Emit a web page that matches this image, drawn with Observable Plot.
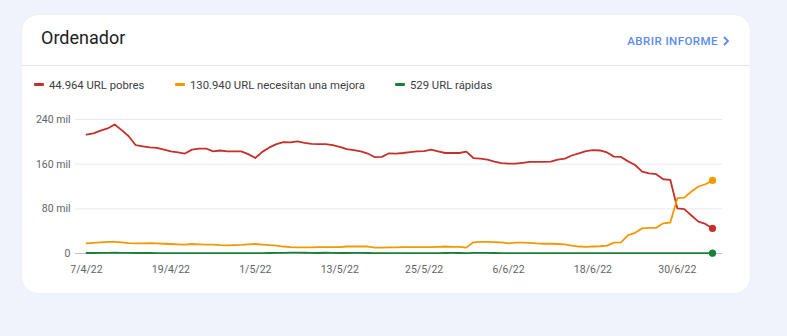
<!DOCTYPE html>
<html>
<head>
<meta charset="utf-8">
<script src="https://cdn.jsdelivr.net/npm/d3@7"></script>
<script src="https://cdn.jsdelivr.net/npm/@observablehq/plot@0.6"></script>
<style>
  html, body { margin: 0; padding: 0; }
  body { width: 787px; height: 336px; background: #f0f3fb; position: relative; overflow: hidden; font-family: Roboto, "Noto Sans", sans-serif; }
  .card { position: absolute; left: 22px; top: 15px; width: 728px; height: 278px; background: #fff; border-radius: 16px; box-shadow: 0 0 2px rgba(60,64,67,0.06); }
  .title { position: absolute; left: 19px; top: 12px; font-size: 18px; color: #202124; }
  .link { position: absolute; right: 20px; top: 19px; font-size: 11.5px; font-weight: 500; color: #5a8cec; letter-spacing: 0.45px; }
  .link svg { vertical-align: -1px; margin-left: 5px; }
  .divider { position: absolute; left: 0; right: 0; top: 50px; height: 1px; background: #e3e3e3; }
  .legend { position: absolute; top: 64px; font-size: 11.3px; color: #3c4043; white-space: nowrap; }
  .legend span.sw { display: inline-block; width: 10px; height: 3px; vertical-align: 3px; margin-right: 5px; border-radius: 1px; }
  #chart { position: absolute; left: 0; top: 0; }
</style>
</head>
<body>
<div class="card">
  <div class="title">Ordenador</div>
  <div class="link">ABRIR INFORME<svg width="7" height="10" viewBox="0 0 7 10"><path d="M1 1 L5 5 L1 9" fill="none" stroke="#5a8cec" stroke-width="1.8"/></svg></div>
  <div class="divider"></div>
  <div id="legend"></div>
</div>
<div id="chart"></div>
<script>
// ---- data ----
const startDate = "2022-04-07";
const seriesNames = ["44.964 URL pobres", "130.940 URL necesitan una mejora", "529 URL rápidas"];
const seriesColors = ["#c5302a", "#f29900", "#188038"];

// values in thousands ("mil")
const pobres = [
  213, 215, 220, 224, 231, 221, 210, 194, 192, 190,
  189, 186, 183, 181, 179, 186, 188, 188, 183, 184.5,
  183, 183, 183, 178, 171, 182, 190, 196, 199.5, 199,
  201, 198, 196.5, 196, 196, 194, 191, 187, 185, 183,
  179, 172.5, 173, 179.5, 179, 180, 181.5, 183, 183.5, 186,
  183, 180, 180, 180, 182.5, 171, 170, 168, 164.5, 162,
  161, 161, 162.5, 164, 164, 164, 164.5, 168, 170, 175.5,
  179.5, 183.5, 185, 184.5, 181, 173.5, 173, 165, 158.5, 146.5,
  143.5, 142, 133, 132, 81, 79.5, 68, 57, 53, 44.964
];
const mejora = [
  18, 19, 20, 21, 21, 20, 18.5, 18, 18, 18.5,
  18, 17.5, 17, 16.5, 16, 17, 16.5, 16, 16, 15,
  14.5, 15, 15.5, 16.5, 17, 16, 15, 14, 12.5, 11.5,
  11, 11, 11, 11.5, 11.5, 11.5, 11.5, 12.5, 12.5, 12.5,
  12.5, 10.5, 10.5, 11, 11, 11.5, 11.5, 11.5, 11.5, 11.5,
  12, 12.5, 12, 12, 10.5, 20, 21, 21, 20.5, 20,
  18, 19.5, 19.5, 19, 18, 17.5, 17.5, 17, 16.5, 14,
  12.5, 12, 12.5, 13, 14, 19.5, 20, 33, 37, 45,
  46, 46, 54, 55.5, 99, 100, 111, 120, 124, 130.94
];
const rapidas = [
  0.9, 0.9, 1.0, 1.2, 1.6, 1.2, 1.0, 0.9, 0.9, 0.9,
  0.8, 0.8, 0.8, 0.7, 0.7, 0.8, 0.8, 0.8, 0.7, 0.7,
  0.7, 0.7, 0.7, 0.8, 0.8, 0.8, 0.9, 1.0, 1.2, 1.4,
  1.5, 1.3, 1.0, 0.9, 1.3, 1.1, 0.9, 0.9, 1.0, 1.2,
  0.9, 0.8, 0.8, 0.8, 0.8, 0.7, 0.7, 0.7, 0.8, 0.8,
  0.8, 0.9, 1.0, 0.9, 0.8, 1.0, 1.2, 1.0, 0.9, 0.8,
  0.7, 0.7, 0.7, 0.7, 0.7, 0.7, 0.7, 0.7, 0.7, 0.7,
  0.6, 0.6, 0.6, 0.6, 0.6, 0.6, 0.6, 0.6, 0.6, 0.6,
  0.6, 0.6, 0.6, 0.6, 0.6, 0.6, 0.6, 0.55, 0.55, 0.529
];
const xTickLabels = ["7/4/22", "19/4/22", "1/5/22", "13/5/22", "25/5/22", "6/6/22", "18/6/22", "30/6/22"];
const yTickValues = [0, 80, 160, 240];

// ---- build table ----
const parseDMY = s => { const [d, m, y] = s.split("/").map(Number); return new Date(Date.UTC(2000 + y, m - 1, d)); };
const start = new Date(startDate + "T00:00:00Z");
const dayAt = i => new Date(start.getTime() + i * 86400000);
const allSeries = [pobres, mejora, rapidas];
const rows = [];
allSeries.forEach((vals, s) => vals.forEach((v, i) => rows.push({ date: dayAt(i), value: v * 1000, series: seriesNames[s] })));
const lastRows = allSeries.map((vals, s) => ({ date: dayAt(vals.length - 1), value: vals[vals.length - 1] * 1000, series: seriesNames[s] }));
const xTicks = xTickLabels.map(parseDMY);
const yTicks = yTickValues.map(v => v * 1000);
const fmtDate = d => `${d.getUTCDate()}/${d.getUTCMonth() + 1}/${String(d.getUTCFullYear()).slice(2)}`;

// ---- legend ----
const legendPos = [12, 153, 373];
document.getElementById("legend").innerHTML = seriesNames.map((n, i) =>
  `<div class="legend" style="left:${legendPos[i]}px"><span class="sw" style="background:${seriesColors[i]}"></span>${n}</div>`).join("");

// ---- chart ----
const chart = Plot.plot({
  width: 787,
  height: 300,
  marginLeft: 75,
  marginRight: 65,
  marginTop: 119,
  marginBottom: 47,
  style: { background: "transparent", fontFamily: "Roboto, 'Noto Sans', sans-serif" },
  x: { type: "utc", domain: [dayAt(0), dayAt(pobres.length - 1)], insetLeft: 11, insetRight: 10, label: null },
  y: { domain: [0, 240000], label: null },
  color: { domain: seriesNames, range: seriesColors },
  marks: [
    Plot.gridY(yTicks.slice(1), { stroke: "#e8eaed", strokeOpacity: 1 }),
    Plot.ruleY([0], { stroke: "#bdc1c6", strokeWidth: 1 }),
    Plot.axisY(yTicks, { tickSize: 0, tickPadding: 5, fontSize: 10.5, fill: "#5f6368", label: null,
      tickFormat: d => d === 0 ? "0" : (d / 1000) + " mil" }),
    Plot.axisX(xTicks, { tickSize: 0, tickPadding: 12.5, fontSize: 10.5, fill: "#5f6368", label: null, tickFormat: fmtDate }),
    Plot.line(rows, { x: "date", y: "value", z: "series", stroke: "series", strokeWidth: 1.8, strokeLinejoin: "round" }),
    Plot.dot(lastRows, { x: "date", y: "value", fill: "series", r: 3.6 })
  ]
});
document.getElementById("chart").appendChild(chart);
</script>
</body>
</html>
